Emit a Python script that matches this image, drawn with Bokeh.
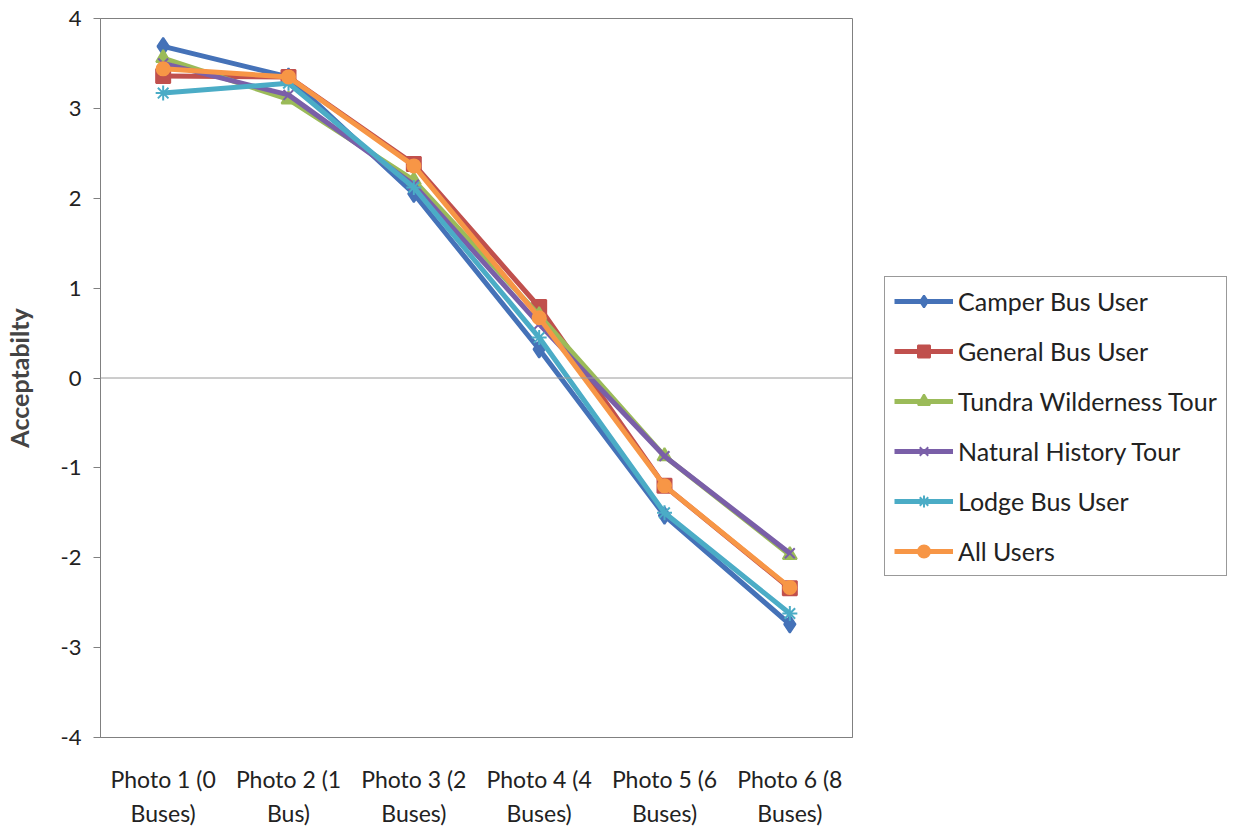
from bokeh.plotting import figure
from bokeh.layouts import row
from bokeh.models import Legend, LegendItem, Span, FixedTicker, Range1d
from bokeh.embed import file_html
from bokeh.resources import INLINE

categories = ["Photo 1 (0\nBuses)", "Photo 2 (1\nBus)", "Photo 3 (2\nBuses)",
              "Photo 4 (4\nBuses)", "Photo 5 (6\nBuses)", "Photo 6 (8\nBuses)"]
x_pos = [1, 2, 3, 4, 5, 6]
y_ticks = [-4, -3, -2, -1, 0, 1, 2, 3, 4]
y_tick_labels = ["-4", "-3", "-2", "-1", "0", "1", "2", "3", "4"]

camper = [3.69, 3.35, 2.05, 0.32, -1.53, -2.74]
general = [3.36, 3.35, 2.38, 0.79, -1.20, -2.34]
tundra = [3.56, 3.10, 2.20, 0.70, -0.87, -1.97]
natural = [3.50, 3.15, 2.15, 0.60, -0.87, -1.95]
lodge = [3.17, 3.28, 2.12, 0.45, -1.50, -2.62]
all_users = [3.44, 3.35, 2.36, 0.67, -1.20, -2.33]

series = [
    ("Camper Bus User", camper, "#4572B8", "diamond", 17),
    ("General Bus User", general, "#C0504D", "square", 14),
    ("Tundra Wilderness Tour", tundra, "#9BBB59", "triangle", 14),
    ("Natural History Tour", natural, "#7A5FA8", "x", 14),
    ("Lodge Bus User", lodge, "#4BACC6", "asterisk", 15),
    ("All Users", all_users, "#F79646", "circle", 13),
]

FONT = "Lato"
TXT = "#222222"

p = figure(frame_width=752, frame_height=719, output_backend="svg", toolbar_location=None,
           x_range=Range1d(0.5, 6.5), y_range=Range1d(-4, 4),
           min_border_left=100, min_border_top=18, min_border_bottom=89,
           min_border_right=1)
p.background_fill_color = "white"
p.border_fill_color = "white"
p.outline_line_color = "#808080"
p.outline_line_width = 1
p.xgrid.visible = False
p.ygrid.visible = False

p.add_layout(Span(location=0, dimension="width", line_color="#9a9a9a", line_width=1))

# legend panel: a separate figure so the legend can sit outside the chart frame;
# its proxy renderers draw the same data, but outside that figure's visible range
p2 = figure(width=380, height=826, output_backend="svg", toolbar_location=None,
            x_range=Range1d(100, 101), y_range=Range1d(100, 101),
            min_border_left=0, min_border_right=0, min_border_top=0, min_border_bottom=0)
p2.axis.visible = False
p2.grid.visible = False
p2.outline_line_color = None
p2.background_fill_color = "white"
p2.border_fill_color = "white"

items = []
for name, vals, color, marker, size in series:
    p.line(x_pos, vals, line_color=color, line_width=5)
    p.scatter(x_pos, vals, marker=marker, size=size, fill_color=color,
              line_color=color, line_width=2)
    l1 = p2.line(x_pos, vals, line_color=color, line_width=5)
    l2 = p2.scatter(x_pos, vals, marker=marker, size=size, fill_color=color,
                    line_color=color, line_width=2)
    items.append(LegendItem(label=name, renderers=[l1, l2]))

legend = Legend(items=items, location=(31, 157), label_text_font=FONT,
                label_text_font_size="25px", label_text_color=TXT,
                border_line_color="#333333", border_line_width=1,
                glyph_width=59, glyph_height=30, spacing=20, padding=9,
                label_standoff=5, background_fill_color="white",
                background_fill_alpha=1.0, margin=0)
p2.add_layout(legend, "center")

p.xaxis.ticker = FixedTicker(ticks=x_pos)
p.xaxis.major_label_overrides = {x: c for x, c in zip(x_pos, categories)}
p.xaxis.major_tick_line_color = None
p.xaxis.minor_tick_line_color = None
p.xaxis.axis_line_color = "#808080"
p.xaxis.major_label_text_font = FONT
p.xaxis.major_label_text_font_size = "23px"
p.xaxis.major_label_text_color = TXT
p.xaxis.major_label_text_line_height = 1.24
p.xaxis.major_label_standoff = 21

p.yaxis.ticker = FixedTicker(ticks=y_ticks)
p.yaxis.major_label_overrides = {t: s for t, s in zip(y_ticks, y_tick_labels)}
p.yaxis.minor_tick_line_color = None
p.yaxis.major_tick_in = 0
p.yaxis.major_tick_out = 7
p.yaxis.major_tick_line_color = "#808080"
p.yaxis.axis_line_color = "#808080"
p.yaxis.major_label_text_font = FONT
p.yaxis.major_label_text_font_size = "22px"
p.yaxis.major_label_text_color = TXT
p.yaxis.major_label_standoff = 12
p.yaxis.axis_label = "Acceptabilty"
p.yaxis.axis_label_text_font = FONT
p.yaxis.axis_label_text_font_style = "bold"
p.yaxis.axis_label_text_font_size = "25px"
p.yaxis.axis_label_standoff = 24

layout = row(p, p2, spacing=0)
open("out.html", "w").write(file_html(layout, INLINE))
